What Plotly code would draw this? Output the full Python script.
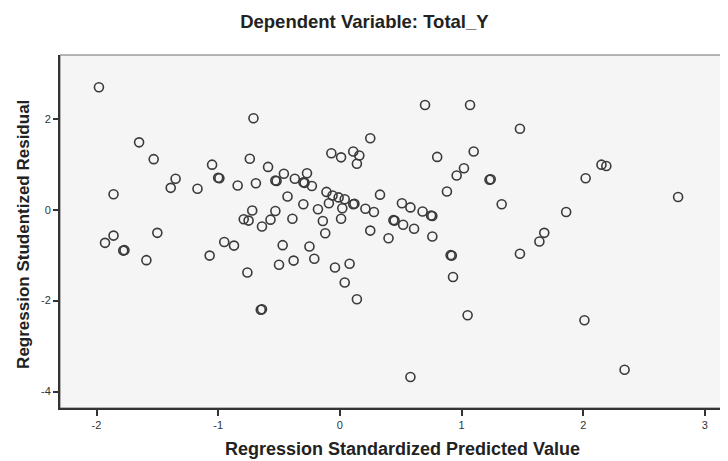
import plotly.graph_objects as go

# Regression Standardized Predicted Value
pred = [-1.98, -0.71, -1.65, -1.53, -1.05, -0.74, -0.59, -0.46, -1.35, -1.39,
        -1.00, -0.99, -0.84, -0.69, -0.53, -0.52, -1.17, -1.86, -0.72, -0.79,
        -0.75, -0.53, -0.57, -0.64, -1.93, -1.86, -1.78, -1.77, -1.50, -1.59,
        -1.07, -0.95, -0.87, -0.76, -0.65, -0.64, -0.47, -0.50, 0.70, 1.07,
        0.25, -0.07, 0.01, 0.11, 0.16, 0.14, 0.80, 1.10, 1.02, 0.96,
        1.24, 1.23, -0.37, -0.27, -0.29, -0.30, -0.23, -0.43, -0.30, -0.18,
        -0.11, -0.06, -0.01, 0.04, 0.12, 0.11, -0.09, 0.02, 0.01, -0.14,
        -0.12, -0.39, 0.21, 0.28, 0.33, 0.51, 0.58, 0.68, 0.76, 0.75,
        0.88, 0.45, 0.44, 0.52, 0.61, 0.25, 0.40, 0.76, -0.25, -0.38,
        -0.21, -0.04, 0.08, 0.04, 0.14, 0.92, 0.91, 0.93, 1.05, 0.58,
        1.48, 2.15, 2.19, 2.02, 1.33, 1.86, 2.78, 1.68, 1.64, 1.48,
        2.01, 2.34]

# Regression Studentized Residual
resid = [2.69, 2.01, 1.48, 1.11, 0.99, 1.12, 0.94, 0.79, 0.68, 0.48,
         0.70, 0.69, 0.53, 0.58, 0.64, 0.63, 0.46, 0.34, -0.02, -0.21,
         -0.24, -0.03, -0.22, -0.37, -0.73, -0.57, -0.90, -0.89, -0.51, -1.11,
         -1.01, -0.71, -0.79, -1.38, -2.20, -2.19, -0.78, -1.21, 2.30, 2.30,
         1.57, 1.24, 1.15, 1.28, 1.19, 1.01, 1.16, 1.28, 0.91, 0.75,
         0.67, 0.66, 0.68, 0.80, 0.59, 0.60, 0.52, 0.29, 0.12, 0.01,
         0.39, 0.31, 0.27, 0.23, 0.13, 0.12, 0.14, 0.03, -0.20, -0.25,
         -0.52, -0.20, 0.02, -0.05, 0.33, 0.14, 0.05, -0.04, -0.14, -0.13,
         0.40, -0.24, -0.23, -0.33, -0.42, -0.46, -0.63, -0.59, -0.81, -1.12,
         -1.08, -1.27, -1.19, -1.60, -1.97, -1.01, -1.00, -1.48, -2.32, -3.68,
         1.78, 0.99, 0.96, 0.69, 0.12, -0.05, 0.28, -0.51, -0.70, -0.97,
         -2.43, -3.52]

x_ticks = [-2, -1, 0, 1, 2, 3]
y_ticks = [-4, -2, 0, 2]

title_text = "Dependent Variable: Total_Y"
x_title = "Regression Standardized Predicted Value"
y_title = "Regression Studentized Residual"

FONT = "Liberation Sans, Arial, sans-serif"

fig = go.Figure(go.Scatter(
    x=pred, y=resid, mode="markers",
    marker=dict(symbol="circle-open", size=9, color="#3a3a3a",
                line=dict(width=1.6, color="#3a3a3a")),
    hoverinfo="skip", showlegend=False,
))

fig.update_layout(
    width=720, height=453,
    margin=dict(l=52, r=0, t=47, b=53),
    paper_bgcolor="white",
    plot_bgcolor="#f5f5f5",
    font=dict(family=FONT, color="#333"),
    title=dict(text=title_text, x=0.495, xref="container", xanchor="center",
               y=0.971, yref="container", yanchor="middle",
               font=dict(family=FONT, size=18.5, color="#222", weight="bold")),
    xaxis=dict(range=[-2.30, 3.19], tickvals=x_ticks, ticktext=[str(v) for v in x_ticks],
               showgrid=False, zeroline=False, showline=True, linecolor="#333",
               linewidth=2, ticks="outside", ticklen=6, tickwidth=1.5, tickcolor="#333",
               tickfont=dict(size=11, color="#333")),
    yaxis=dict(range=[-4.36, 3.40], tickvals=y_ticks, ticktext=[str(v) for v in y_ticks],
               showgrid=False, zeroline=False, showline=True, linecolor="#333",
               linewidth=2, ticks="outside", ticklen=5, tickwidth=1.5, tickcolor="#333",
               tickfont=dict(size=11, color="#333")),
    shapes=[dict(type="rect", xref="paper", yref="paper", x0=0, x1=1, y0=0, y1=1,
                 line=dict(color="#6e6e6e", width=1), layer="below")],
    annotations=[
        dict(text=x_title, xref="paper", yref="paper", x=0.512, y=-0.116,
             xanchor="center", yanchor="middle", showarrow=False,
             font=dict(family=FONT, size=18, color="#222", weight="bold")),
        dict(text=y_title, xref="paper", yref="paper", x=-0.054, y=0.493,
             xanchor="center", yanchor="middle", textangle=-90, showarrow=False,
             font=dict(family=FONT, size=17, color="#222", weight="bold")),
    ],
)

fig.write_html("out.html")
